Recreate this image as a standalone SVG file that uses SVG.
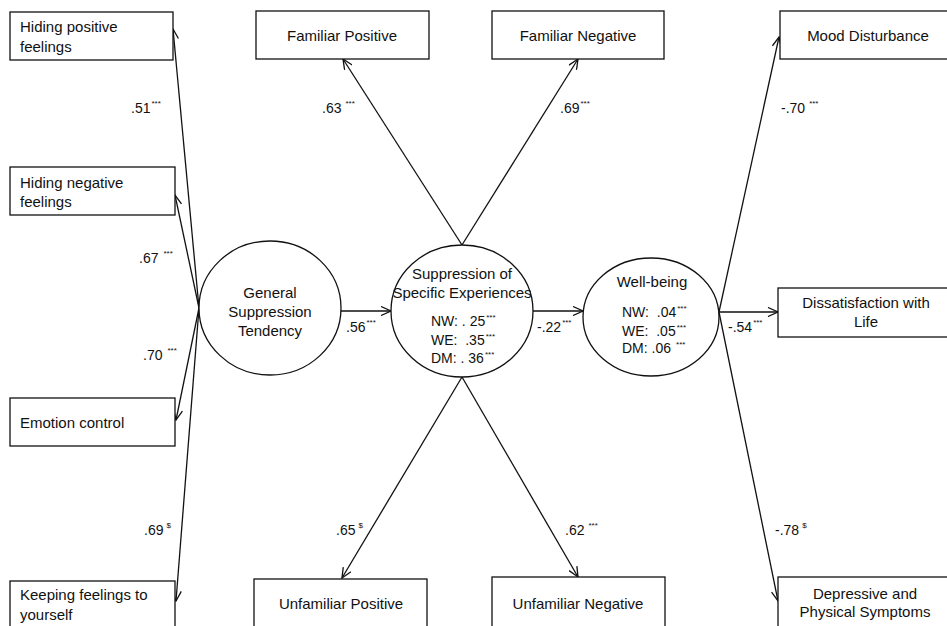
<svg xmlns="http://www.w3.org/2000/svg" width="947" height="626" viewBox="0 0 947 626">
  <style>
    text { font-family: "Liberation Sans", Arial, sans-serif; fill: #111; }
    .lbl { font-size: 15px; }
    .mid { text-anchor: middle; }
    .stat { font-size: 14px; white-space: pre; }
    .coef { font-size: 14px; }
    .sup { font-size: 8px; }
    .box { fill: #fff; stroke: #111; stroke-width: 1.3; }
    .latent { fill: #fff; stroke: #111; stroke-width: 1.3; }
    .edge { stroke: #111; stroke-width: 1.3; fill: none; marker-end: url(#open); }
  </style>
  <defs>
    <marker id="open" viewBox="0 0 12 10" refX="11" refY="5" markerWidth="12" markerHeight="10" markerUnits="userSpaceOnUse" orient="auto">
      <path d="M1,0.5 L11,5 L1,9.5" fill="none" stroke="#111" stroke-width="1.3"/>
    </marker>
  </defs>
  <rect width="947" height="626" fill="#fff"/>

  <!-- connectors -->
  <g id="connectors">
    <line class="edge" x1="199" y1="308" x2="173" y2="29"/>
    <line class="edge" x1="199" y1="308" x2="175" y2="195"/>
    <line class="edge" x1="199" y1="308" x2="176" y2="420"/>
    <line class="edge" x1="199" y1="308" x2="176" y2="601"/>
    <line class="edge" x1="341" y1="311" x2="391" y2="311"/>
    <line class="edge" x1="533" y1="311" x2="583" y2="311"/>
    <line class="edge" x1="719" y1="312" x2="778" y2="312"/>
    <line class="edge" x1="462" y1="245" x2="343" y2="59"/>
    <line class="edge" x1="462" y1="245" x2="578" y2="59"/>
    <line class="edge" x1="462" y1="377" x2="342" y2="578"/>
    <line class="edge" x1="462" y1="377" x2="578" y2="577"/>
    <line class="edge" x1="719" y1="312" x2="779" y2="37"/>
    <line class="edge" x1="719" y1="312" x2="778" y2="601"/>
  </g>

  <!-- path coefficients -->
  <g id="coefficients" class="coef">
    <text x="131" y="113">.51<tspan class="sup" dx="1" dy="-7">***</tspan></text>
    <text x="139" y="263">.67<tspan class="sup" dx="5" dy="-7">***</tspan></text>
    <text x="143" y="360">.70<tspan class="sup" dx="5" dy="-7">***</tspan></text>
    <text x="144" y="535">.69<tspan class="sup" dx="3" dy="-7">$</tspan></text>
    <text x="322" y="113">.63<tspan class="sup" dx="4" dy="-7">***</tspan></text>
    <text x="560" y="113">.69<tspan class="sup" dx="1" dy="-7">***</tspan></text>
    <text x="346" y="332">.56<tspan class="sup" dx="1" dy="-7">***</tspan></text>
    <text x="537" y="332">-.22<tspan class="sup" dx="1" dy="-7">***</tspan></text>
    <text x="728" y="332">-.54<tspan class="sup" dx="1" dy="-7">***</tspan></text>
    <text x="781" y="113">-.70<tspan class="sup" dx="4" dy="-7">***</tspan></text>
    <text x="336" y="535">.65<tspan class="sup" dx="3" dy="-7">$</tspan></text>
    <text x="565" y="535">.62<tspan class="sup" dx="4" dy="-7">***</tspan></text>
    <text x="775" y="535">-.78<tspan class="sup" dx="3" dy="-7">$</tspan></text>
  </g>

  <!-- indicator boxes: general suppression -->
  <g id="hiding-positive">
    <rect class="box" x="10" y="12" width="163" height="48"/>
    <text class="lbl" x="20" y="32">Hiding positive</text>
    <text class="lbl" x="20" y="52">feelings</text>
  </g>
  <g id="hiding-negative">
    <rect class="box" x="10" y="167" width="165" height="48"/>
    <text class="lbl" x="20" y="188">Hiding negative</text>
    <text class="lbl" x="20" y="207">feelings</text>
  </g>
  <g id="emotion-control">
    <rect class="box" x="10" y="398" width="165" height="48"/>
    <text class="lbl" x="20" y="428">Emotion control</text>
  </g>
  <g id="keeping-feelings">
    <rect class="box" x="10" y="581" width="165" height="60"/>
    <text class="lbl" x="20" y="600">Keeping feelings to</text>
    <text class="lbl" x="20" y="620">yourself</text>
  </g>

  <!-- indicator boxes: specific experiences -->
  <g id="familiar-positive">
    <rect class="box" x="256" y="11" width="173" height="48"/>
    <text class="lbl mid" x="342" y="41">Familiar Positive</text>
  </g>
  <g id="familiar-negative">
    <rect class="box" x="492" y="11" width="172" height="48"/>
    <text class="lbl mid" x="578" y="41">Familiar Negative</text>
  </g>
  <g id="unfamiliar-positive">
    <rect class="box" x="254" y="579" width="173" height="60"/>
    <text class="lbl mid" x="341" y="609">Unfamiliar Positive</text>
  </g>
  <g id="unfamiliar-negative">
    <rect class="box" x="492" y="577" width="173" height="62"/>
    <text class="lbl mid" x="578" y="609">Unfamiliar Negative</text>
  </g>

  <!-- indicator boxes: well-being -->
  <g id="mood-disturbance">
    <rect class="box" x="780" y="11" width="180" height="48"/>
    <text class="lbl mid" x="868" y="41">Mood Disturbance</text>
  </g>
  <g id="dissatisfaction">
    <rect class="box" x="778" y="288" width="180" height="49"/>
    <text class="lbl mid" x="866" y="308">Dissatisfaction with</text>
    <text class="lbl mid" x="866" y="327">Life</text>
  </g>
  <g id="depressive-symptoms">
    <rect class="box" x="778" y="577" width="180" height="62"/>
    <text class="lbl mid" x="865" y="599">Depressive and</text>
    <text class="lbl mid" x="865" y="617">Physical Symptoms</text>
  </g>

  <!-- latent variables -->
  <g id="general-suppression">
    <ellipse class="latent" cx="270" cy="308" rx="71" ry="67"/>
    <text class="lbl mid" x="270" y="298">General</text>
    <text class="lbl mid" x="270" y="317">Suppression</text>
    <text class="lbl mid" x="270" y="336">Tendency</text>
  </g>
  <g id="specific-suppression">
    <ellipse class="latent" cx="462" cy="311" rx="71" ry="66"/>
    <text class="lbl mid" x="462" y="279">Suppression of</text>
    <text class="lbl mid" x="462" y="298">Specific Experiences</text>
    <text class="stat" x="431" y="326" xml:space="preserve">NW: . 25<tspan class="sup" dx="1" dy="-6">***</tspan></text>
    <text class="stat" x="431" y="345" xml:space="preserve">WE:  .35<tspan class="sup" dx="1" dy="-6">***</tspan></text>
    <text class="stat" x="431" y="363" xml:space="preserve">DM: . 36<tspan class="sup" dx="1" dy="-6">***</tspan></text>
  </g>
  <g id="well-being">
    <ellipse class="latent" cx="651" cy="317" rx="68" ry="59"/>
    <text class="lbl mid" x="652" y="287">Well-being</text>
    <text class="stat" x="622" y="317" xml:space="preserve">NW:  .04<tspan class="sup" dx="1" dy="-6">***</tspan></text>
    <text class="stat" x="622" y="336" xml:space="preserve">WE:  .05<tspan class="sup" dx="1" dy="-6">***</tspan></text>
    <text class="stat" x="622" y="353" xml:space="preserve">DM: .06<tspan class="sup" dx="5" dy="-6">***</tspan></text>
  </g>
</svg>
